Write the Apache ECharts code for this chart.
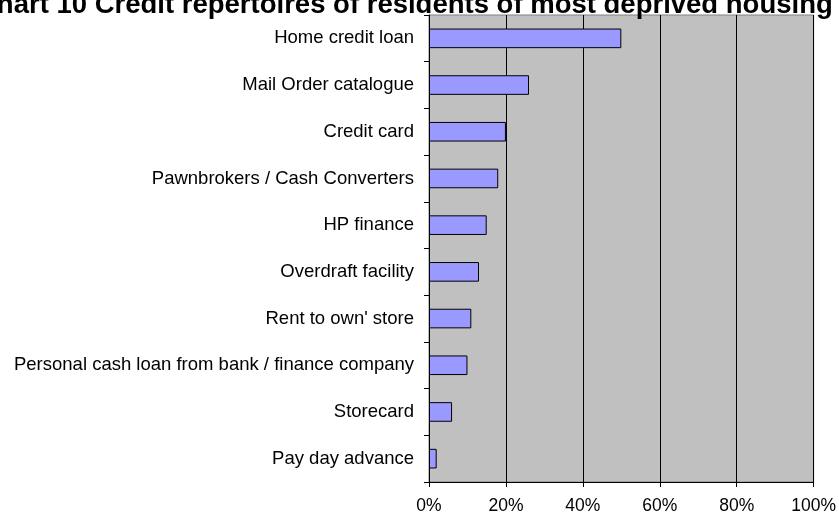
<!DOCTYPE html>
<html>
<head>
<meta charset="utf-8">
<script src="https://cdn.jsdelivr.net/npm/echarts@6/dist/echarts.min.js"></script>
<style>
  html, body { margin: 0; padding: 0; background: #fff; }
  #main { width: 839px; height: 516px; }
</style>
</head>
<body>
<div id="main"></div>
<script>
// categories top to bottom as in the picture
var categories = [
  'Home credit loan',
  'Mail Order catalogue',
  'Credit card',
  'Pawnbrokers / Cash Converters',
  'HP finance',
  'Overdraft facility',
  "Rent to own' store",
  'Personal cash loan from bank / finance company',
  'Storecard',
  'Pay day advance'
];
var values = [50, 26, 20, 18, 15, 13, 11, 10, 6, 2];
var titleText = 'Chart 10 Credit repertoires of residents of most deprived housing estates';

var myChart = echarts.init(document.getElementById('main'));

var option = {
  animation: false,
  backgroundColor: '#ffffff',
  title: {
    text: titleText,
    left: -28,
    top: -14,
    textStyle: {
      fontFamily: 'Liberation Sans, Arial, sans-serif',
      fontSize: 27.5,
      fontWeight: 'bold',
      color: '#000'
    }
  },
  grid: {
    left: 429,
    right: 25,
    top: 15,
    bottom: 34,
    show: true,
    backgroundColor: '#c0c0c0',
    borderColor: '#808080',
    borderWidth: 1
  },
  xAxis: {
    type: 'value',
    min: 0,
    max: 100,
    interval: 20,
    axisLine: { show: true, lineStyle: { color: '#000', width: 1 } },
    axisTick: { show: true, length: 5, lineStyle: { color: '#000' } },
    axisLabel: {
      formatter: '{value}%',
      color: '#000',
      fontSize: 17.5,
      fontFamily: 'Liberation Sans, Arial, sans-serif',
      margin: 15
    },
    splitLine: { show: true, lineStyle: { color: '#000', width: 1 } }
  },
  yAxis: {
    type: 'category',
    data: categories,
    inverse: true,
    axisLine: { show: true, lineStyle: { color: '#000', width: 1 } },
    axisTick: { show: true, length: 5, alignWithLabel: false, lineStyle: { color: '#000' } },
    axisLabel: {
      color: '#000',
      fontSize: 18.5,
      fontFamily: 'Liberation Sans, Arial, sans-serif',
      margin: 15
    }
  },
  series: [{
    type: 'bar',
    data: values,
    barWidth: '42%',
    itemStyle: {
      color: '#9999ff',
      borderColor: '#000',
      borderWidth: 1
    }
  }]
};

myChart.setOption(option);
</script>
</body>
</html>
